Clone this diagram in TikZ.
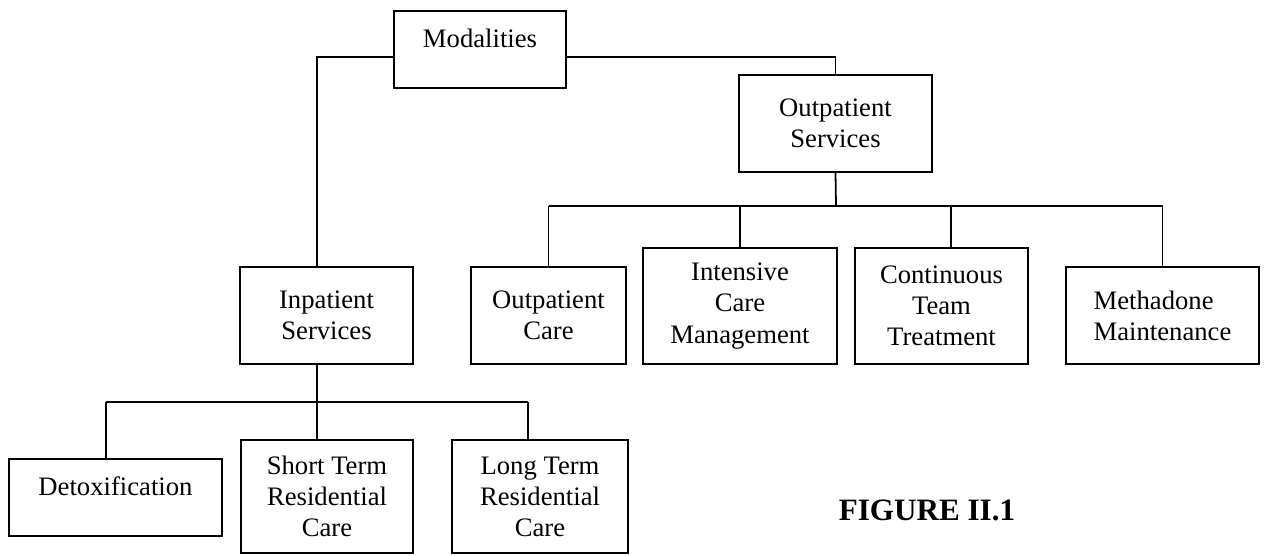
\documentclass[tikz,border=0pt]{standalone}
\usepackage{fontspec}
\setmainfont{Liberation Serif}

\begin{document}
\begin{tikzpicture}[x=0.45pt, y=-0.45pt,
    box/.style={rectangle, draw=black, line width=0.8pt, fill=white, align=center, inner sep=2pt, font=\fontsize{12}{14}\selectfont},
    topbox/.style={box, text depth=10pt},
    link/.style={draw=black, line width=0.8pt}
  ]
  \useasboundingbox (0,0) rectangle (1264,555);

  % top level
  \node (mod) [topbox, minimum width=77.4pt, minimum height=34.65pt] at (480,49.5) {Modalities};
  \node (outs) [box, minimum width=86.85pt, minimum height=43.65pt] at (835.5,123.5) {Outpatient\\Services};
  \node (inp) [box, minimum width=77.85pt, minimum height=43.65pt] at (326.5,315.5) {Inpatient\\Services};

  % outpatient branch
  \node (oc) [box, minimum width=69.75pt, minimum height=43.65pt] at (548.5,315.5) {Outpatient\\Care};
  \node (icm) [box, minimum width=87.3pt, minimum height=52.2pt] at (740,306) {Intensive\\Care\\Management};
  \node (ctt) [box, minimum width=77.85pt, minimum height=52.2pt] at (941.5,306) {Continuous\\Team\\Treatment};
  \node (mm) [box, align=left, minimum width=86.85pt, minimum height=43.65pt] at (1162.5,315.5) {Methadone\\Maintenance};

  % inpatient branch
  \node (det) [topbox, minimum width=95.85pt, minimum height=34.65pt] at (115.5,497.5) {Detoxification};
  \node (str) [box, minimum width=77.4pt, minimum height=50.85pt] at (327,496.5) {Short Term\\Residential\\Care};
  \node (ltr) [box, minimum width=79.2pt, minimum height=50.85pt] at (540,496.5) {Long Term\\Residential\\Care};

  \node (fig) [font=\fontsize{14}{16}\selectfont\bfseries] at (927,510) {FIGURE II.1};

  % junctions
  \coordinate (ibar) at (317,402);
  \coordinate (idet) at (106,402);
  \coordinate (iltr) at (528,402);
  \coordinate (obar) at (836,206);
  \coordinate (octt) at (951,206);

  \draw [link] ([yshift=-3.4pt]mod.west) -| (inp.north -| ibar);
  \draw [link] ([yshift=-3.4pt]mod.east) -| (outs.north);

  \draw [link] (outs.south) -- (obar);
  \draw [link] (oc.north |- obar) -- (mm.north |- obar);
  \draw [link] (oc.north |- obar) -- (oc.north);
  \draw [link] (icm.north |- obar) -- (icm.north);
  \draw [link] (octt) -- (octt |- ctt.north);
  \draw [link] (mm.north |- obar) -- (mm.north);

  \draw [link] (inp.south -| ibar) -- (ibar);
  \draw [link] (idet) -- (iltr);
  \draw [link] (idet) -- (idet |- det.north);
  \draw [link] (ibar) -- (ibar |- str.north);
  \draw [link] (iltr) -- (iltr |- ltr.north);
\end{tikzpicture}
\end{document}
